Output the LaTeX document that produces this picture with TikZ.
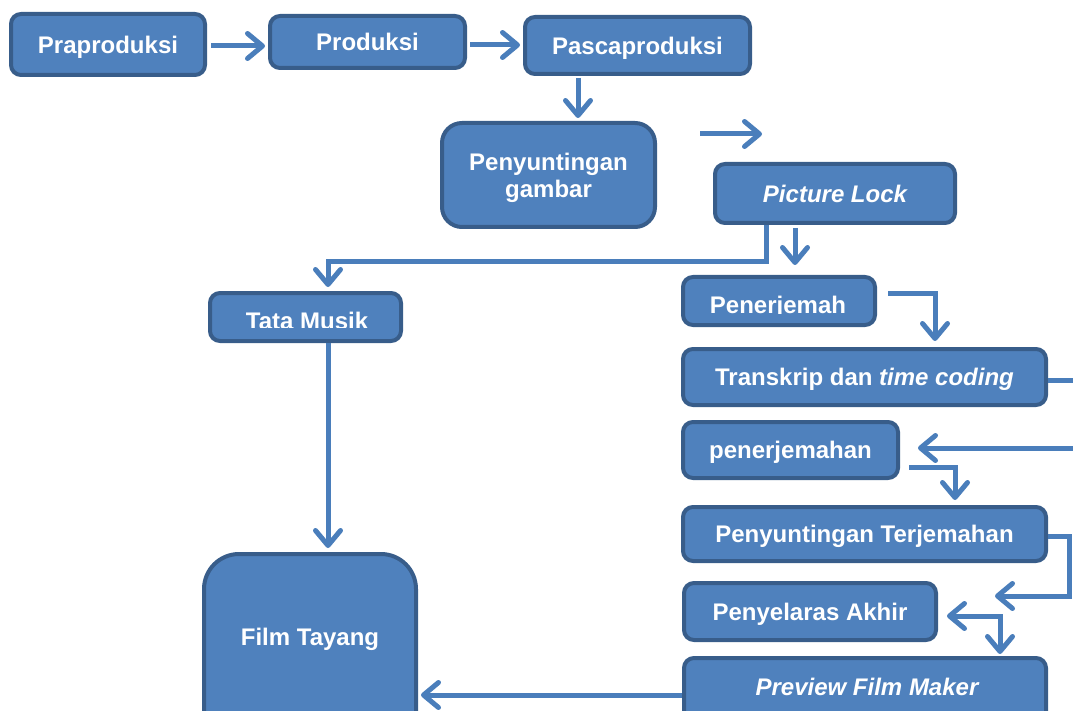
\documentclass[tikz,border=0pt]{standalone}
\usepackage{fontspec}
\setmainfont{Liberation Sans}
\usetikzlibrary{arrows.meta}
\definecolor{boxfill}{HTML}{4F81BD}
\definecolor{boxline}{HTML}{385D8A}
\definecolor{connc}{HTML}{4A7EBB}
\tikzset{
  box/.style={draw=boxline, fill=boxfill, line width=4pt, rounded corners=10pt, inner sep=0pt,
    text=white, font=\fontsize{24}{27}\selectfont\bfseries, align=center, text depth=0pt},
  lbl/.style={text=white, font=\fontsize{24}{27}\selectfont\bfseries, inner sep=0pt, align=center},
  tipc/.tip={Straight Barb[length=15pt,width=25pt,round]},
  conn/.style={draw=connc, line width=5pt, -tipc},
  conntwo/.style={draw=connc, line width=5pt, tipc-tipc},
  plainc/.style={draw=connc, line width=5pt}
}
\begin{document}
\begin{tikzpicture}[x=1pt,y=-1pt]
\useasboundingbox (0,0) rectangle (1073,711);
\clip (0,0) rectangle (1073,711);

% boxes
\node[box, minimum width=194pt, minimum height=61pt] (prapro) at (108,44.5) {Praproduksi};
\node[box, minimum width=195pt, minimum height=52pt] (prod) at (367.5,42) {Produksi};
\node[box, minimum width=225pt, minimum height=57pt] (pasca) at (637.5,45.5) {Pascaproduksi};
\node[box, rounded corners=20pt, minimum width=213pt, minimum height=104pt] (pgambar) at (548.5,175) {Penyuntingan\\gambar};
\node[box, minimum width=240pt, minimum height=59pt] (plock) at (835,193.5) {\itshape Picture Lock};
\node[box, minimum width=191pt, minimum height=48pt] (tata) at (305.5,317) {};
\node[box, rounded corners=35pt, minimum width=212pt, minimum height=206pt] (film) at (310,657) {};
\node[lbl, text depth=0pt] (filmtext) at (310,637) {Film Tayang};
\node[box, minimum width=192pt, minimum height=48pt] (pener) at (779,301) {};
\node[box, minimum width=363pt, minimum height=56pt] (trans) at (864.5,377) {Transkrip dan \textit{time coding}};
\node[box, minimum width=215pt, minimum height=56pt] (penerj) at (790.5,450) {penerjemahan};
\node[box, minimum width=363pt, minimum height=54pt] (pterj) at (864.5,534) {Penyuntingan Terjemahan};
\node[box, minimum width=252pt, minimum height=57pt] (pakhir) at (810,611.5) {Penyelaras Akhir};
\node[box, minimum width=362pt, minimum height=82pt] (preview) at (865,699) {};
\node[lbl, text depth=0pt] (previewtext) at (867,687) {\itshape Preview Film Maker};

% clipped labels
\begin{scope}
  \clip (200,300) rectangle (410,327);
  \node[lbl, anchor=base] (tatatext) at (307,329) {Tata Musik};
\end{scope}
\begin{scope}
  \clip (680,280) rectangle (880,313);
  \node[lbl, anchor=base] (penertext) at (778,313) {Penerjemah};
\end{scope}

% connectors
\draw[conn, shorten <=4pt, shorten >=3pt] ([yshift=-1.5pt]prapro.east) -- ([yshift=-1.5pt]prapro.east -| prod.west);
\draw[conn, shorten <=3pt, shorten >=3pt] ([yshift=-3pt]prod.east) -- ([yshift=-3pt]prod.east -| pasca.west);
\draw[conn, shorten <=2pt, shorten >=3pt] ([xshift=-59.5pt]pasca.south) -- ([xshift=-59.5pt]pasca.south |- pgambar.north);

\coordinate (fa1) at (700,134);
\coordinate (fa2) at (762,134);
\draw[conn] (fa1) -- (fa2);

\coordinate (tA) at ([xshift=22.5pt]tata.north);
\draw[conn, shorten >=4pt] ([xshift=-69pt]plock.south) |- ([yshift=29pt]tA) -- (tA);
\draw[conn, shorten <=3pt, shorten >=10pt] ([xshift=-40pt]plock.south) -- ([xshift=-40pt]plock.south |- pener.north);

\draw[conn, shorten >=4pt] ([xshift=22.5pt]tata.south) -- ([xshift=22.5pt]tata.south |- film.north);

\draw[conn, shorten <=11pt, shorten >=6pt] ([yshift=8pt]pener.east) -| ([xshift=70.5pt]trans.north);

\coordinate (rt1) at (1080,380);
\draw[plainc] ([yshift=-3pt]trans.east) -- (rt1);
\coordinate (rt2) at (1080,448);
\draw[conn, shorten >=18pt] (rt2) -- (rt2 -| penerj.east);

\draw[conn, shorten <=9pt, shorten >=5pt] ([yshift=-17pt]penerj.east) -| ([xshift=90.5pt]pterj.north);

\coordinate (pk) at ([xshift=57pt, yshift=15.5pt]pakhir.east);
\draw[conn] ([yshift=-2pt]pterj.east) -- ++(21,0) |- (pk);

\draw[conntwo, shorten <=9pt, shorten >=2pt] ([yshift=-4.5pt]pakhir.east) -| ([xshift=135pt]preview.north);

\draw[conn, shorten >=3pt] ([yshift=4pt]preview.west) -- ([yshift=4pt]preview.west -| film.east);
\end{tikzpicture}
\end{document}
